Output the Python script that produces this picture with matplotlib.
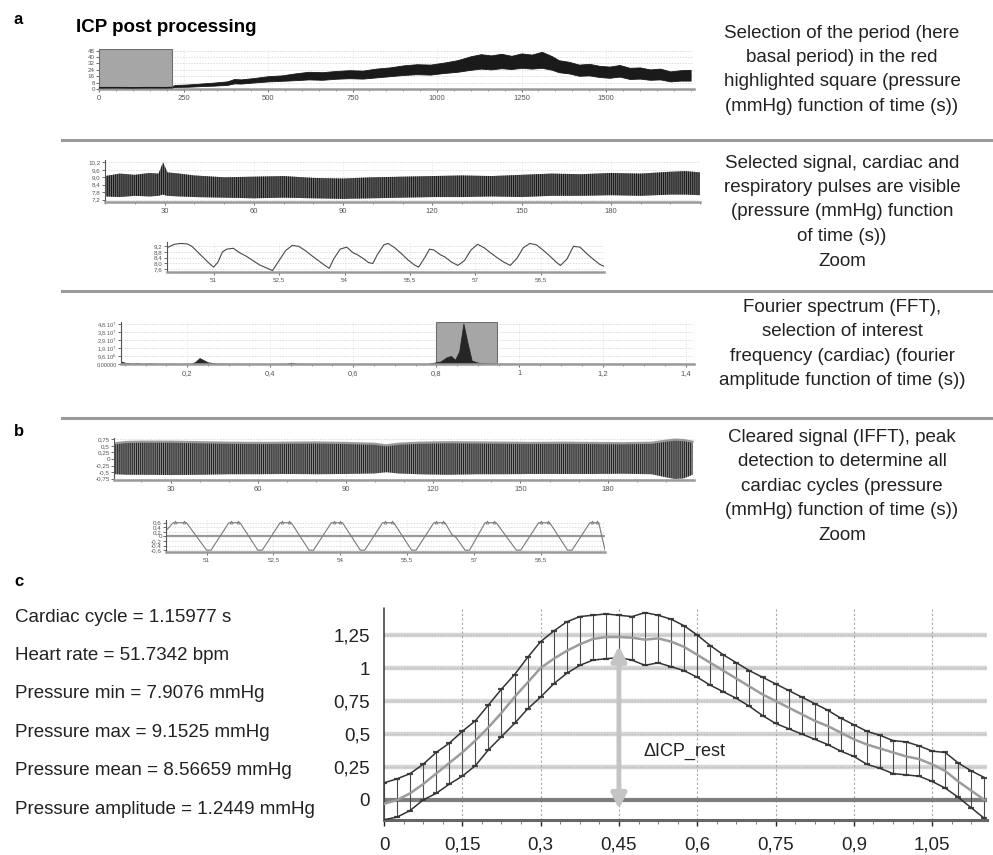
import numpy as np
import matplotlib
matplotlib.use("Agg")
import matplotlib.pyplot as plt
from matplotlib.lines import Line2D
from matplotlib.patches import Rectangle
from matplotlib.ticker import MultipleLocator

plt.rcParams["font.family"] = ["Liberation Sans", "DejaVu Sans"]
plt.rcParams["hatch.linewidth"] = 0.7

W, H = 993, 855

# ---- a1: whole recording, pressure band (mmHg) vs time (s)
a1_t = [0, 50, 100, 150, 200, 215, 225, 260, 300, 340, 380, 400, 420, 460, 500,
        540, 580, 620, 660, 700, 740, 780, 820, 860, 900, 940, 980, 1020, 1060,
        1100, 1130, 1160, 1190, 1220, 1250, 1280, 1310, 1340, 1360, 1390, 1420,
        1450, 1480, 1510, 1540, 1570, 1600, 1630, 1660, 1690, 1720, 1750]
a1_hi = [3.5, 3.5, 3.2, 3.6, 3.4, 3.6, 5.0, 5.6, 6.8, 8.0, 9.6, 12.5, 12.0, 13.8,
         16.0, 17.0, 19.5, 21.5, 21.0, 22.5, 23.5, 23.0, 25.5, 27.0, 29.5, 31.0,
         30.5, 33.0, 36.0, 41.0, 43.5, 42.0, 44.0, 41.5, 44.5, 43.0, 46.5, 41.0,
         36.0, 34.0, 30.5, 31.5, 29.0, 28.0, 30.0, 26.5, 27.0, 24.5, 25.5, 22.0,
         23.5, 24.0]
a1_lo = [1.5, 1.6, 1.4, 1.6, 1.5, 1.8, 2.6, 2.8, 3.6, 4.2, 5.2, 7.0, 6.8, 8.2, 9.5,
         10.2, 11.0, 12.0, 11.5, 12.8, 13.5, 13.0, 14.5, 16.0, 17.5, 18.5, 18.0,
         20.0, 21.5, 24.0, 25.5, 24.5, 26.0, 25.0, 26.5, 25.5, 26.5, 24.0, 21.0,
         19.5, 16.5, 17.0, 15.0, 14.0, 15.5, 12.5, 13.0, 11.5, 12.0, 9.5, 10.5, 10.5]
a1_select = (0, 215)
a1_xticks = [0, 250, 500, 750, 1000, 1250, 1500]
a1_yticks = [0, 8, 16, 24, 32, 40, 48]

# ---- a2: selected basal period
a2_t = [10, 15, 20, 25, 28, 29.5, 31, 35, 40, 50, 60, 70, 80, 90, 100, 110, 120,
        130, 140, 150, 160, 170, 180, 190, 200, 205, 210]
a2_hi = [9.1, 9.3, 9.2, 9.35, 9.3, 10.2, 9.4, 9.3, 9.15, 9.0, 9.05, 9.1, 8.95, 8.9,
         9.0, 9.05, 9.1, 9.15, 9.1, 9.2, 9.3, 9.25, 9.35, 9.3, 9.45, 9.5, 9.4]
a2_lo = [7.45, 7.4, 7.5, 7.45, 7.5, 7.6, 7.5, 7.45, 7.4, 7.35, 7.3, 7.35, 7.3, 7.25,
         7.3, 7.35, 7.4, 7.4, 7.45, 7.4, 7.5, 7.5, 7.55, 7.5, 7.6, 7.6, 7.55]
sig_xticks = [30, 60, 90, 120, 150, 180]
a2_yticks = [7.2, 7.8, 8.4, 9.0, 9.6, 10.2]
a2_ylabels = ["7,2", "7,8", "8,4", "9,0", "9,6", "10,2"]

# ---- a2 zoom
a2z_t = [49.93, 50.1, 50.25, 50.4, 50.5, 50.6, 50.7, 50.8, 50.9, 51.0, 51.1, 51.2,
         51.3, 51.45, 51.6, 51.75, 51.9, 52.05, 52.2, 52.35, 52.5, 52.65, 52.8,
         52.95, 53.1, 53.25, 53.4, 53.55, 53.65, 53.75, 53.9, 54.05, 54.2, 54.3,
         54.45, 54.55, 54.65, 54.75, 54.9, 55.0, 55.15, 55.3, 55.45, 55.6, 55.7,
         55.85, 55.95, 56.05, 56.2, 56.3, 56.45, 56.6, 56.75, 56.9, 57.05, 57.2,
         57.35, 57.5, 57.65, 57.8, 57.95, 58.1, 58.25, 58.4, 58.55, 58.7, 58.85,
         58.95, 59.1, 59.25, 59.4, 59.55, 59.7, 59.85, 59.95]
a2z_p = [9.10, 9.34, 9.40, 9.36, 9.20, 8.90, 8.60, 8.30, 8.00, 7.74, 8.10, 8.80,
         9.00, 9.06, 8.74, 8.50, 8.20, 7.90, 7.70, 7.50, 8.20, 8.90, 9.26, 9.20,
         8.90, 8.54, 8.20, 7.86, 7.66, 8.30, 9.00, 9.14, 8.74, 8.60, 8.30, 8.06,
         8.00, 8.60, 9.30, 9.40, 9.10, 8.70, 8.26, 7.90, 7.74, 8.46, 9.00, 8.94,
         8.60, 8.46, 8.10, 7.86, 8.20, 8.94, 9.34, 9.10, 8.74, 8.40, 8.10, 7.86,
         8.34, 9.10, 9.40, 9.30, 8.94, 8.54, 8.10, 7.86, 8.30, 9.20, 9.14, 8.70,
         8.30, 7.94, 7.80]
zoom_xticks = [51, 52.5, 54, 55.5, 57, 58.5]
zoom_xlabels = ["51", "52,5", "54", "55,5", "57", "58,5"]

# ---- a3: Fourier spectrum (amplitude x 1e7)
fft_f = [0.041, 0.05, 0.07, 0.08, 0.09, 0.11, 0.13, 0.15, 0.18, 0.21, 0.22, 0.23,
         0.24, 0.25, 0.27, 0.30, 0.35, 0.40, 0.44, 0.45, 0.46, 0.50, 0.60, 0.70,
         0.78, 0.81, 0.825, 0.835, 0.845, 0.855, 0.865, 0.875, 0.885, 0.90, 0.92,
         0.95, 1.0, 1.2, 1.42]
fft_a = [0.3, 0.15, 0.05, 0.12, 0.04, 0.08, 0.03, 0.05, 0.03, 0.05, 0.25, 0.7,
         0.45, 0.2, 0.06, 0.04, 0.03, 0.02, 0.04, 0.15, 0.05, 0.02, 0.02, 0.02,
         0.03, 0.3, 0.8, 0.95, 0.5, 1.5, 4.8, 2.5, 0.4, 0.15, 0.08, 0.04, 0.02,
         0.02, 0.02]
fft_select = (0.8, 0.947)
fft_xticks = [0.2, 0.4, 0.6, 0.8, 1.0, 1.2, 1.4]
fft_xlabels = ["0,2", "0,4", "0,6", "0,8", "1", "1,2", "1,4"]
fft_yticks = [0, 0.96, 1.92, 2.88, 3.84, 4.8]
fft_ylabels = ["0,00000", "9,6.10$^6$", "1,9.10$^7$", "2,9.10$^7$", "3,8.10$^7$",
               "4,8.10$^7$"]

# ---- b1: cleared signal (IFFT)
b1_t = [11, 15, 20, 30, 40, 50, 60, 70, 80, 90, 100, 104, 108, 115, 125, 135, 145,
        155, 165, 175, 185, 195, 200, 203, 206, 209]
b1_hi = [0.6, 0.65, 0.66, 0.66, 0.64, 0.62, 0.61, 0.62, 0.63, 0.61, 0.58, 0.52,
         0.58, 0.62, 0.64, 0.63, 0.62, 0.61, 0.62, 0.61, 0.60, 0.62, 0.70, 0.74,
         0.72, 0.66]
b1_lo = [-0.58, -0.6, -0.6, -0.61, -0.6, -0.58, -0.58, -0.57, -0.58, -0.57, -0.55,
         -0.5, -0.55, -0.58, -0.6, -0.58, -0.58, -0.57, -0.57, -0.57, -0.56,
         -0.58, -0.7, -0.76, -0.74, -0.6]
b1_yticks = [-0.75, -0.5, -0.25, 0, 0.25, 0.5, 0.75]
b1_ylabels = ["-0,75", "-0,5", "-0,25", "0", "0,25", "0,5", "0,75"]

# ---- b2 zoom with detected peaks
b2_t = [50.09, 50.25, 50.55, 51.0, 51.1, 51.5, 51.75, 52.15, 52.25, 52.65, 52.9,
        53.3, 53.4, 53.8, 54.05, 54.45, 54.55, 54.95, 55.2, 55.6, 55.7, 56.1,
        56.35, 56.5, 56.6, 56.8, 56.9, 57.25, 57.5, 57.95, 58.05, 58.45, 58.7,
        59.1, 59.2, 59.6, 59.8, 59.94]
b2_p = [0.25, 0.6, 0.6, -0.6, -0.6, 0.6, 0.6, -0.6, -0.6, 0.6, 0.6, -0.6, -0.6,
        0.6, 0.6, -0.6, -0.6, 0.6, 0.6, -0.6, -0.6, 0.6, 0.6, 0.1, -0.05, -0.6,
        -0.6, 0.6, 0.6, -0.6, -0.6, 0.6, 0.6, -0.6, -0.6, 0.6, 0.6, -0.6]
b2_peak_t = [50.3, 50.5, 51.55, 51.7, 52.7, 52.85, 53.85, 54.0, 55.0, 55.15, 56.15,
             56.3, 57.3, 57.45, 58.5, 58.65, 59.65, 59.75]

# ---- c: averaged cardiac cycle (mmHg) vs time (s)
c_t = [0.0, 0.025, 0.05, 0.075, 0.1, 0.125, 0.15, 0.175, 0.2, 0.225, 0.25, 0.275,
       0.3, 0.325, 0.35, 0.375, 0.4, 0.425, 0.45, 0.475, 0.5, 0.525, 0.55, 0.575,
       0.6, 0.625, 0.65, 0.675, 0.7, 0.725, 0.75, 0.775, 0.8, 0.825, 0.85, 0.875,
       0.9, 0.925, 0.95, 0.975, 1.0, 1.025, 1.05, 1.075, 1.1, 1.125, 1.15]
c_mean = [-0.03, 0.00, 0.05, 0.12, 0.20, 0.28, 0.36, 0.45, 0.55, 0.66, 0.78, 0.89,
          1.00, 1.07, 1.13, 1.18, 1.22, 1.235, 1.235, 1.23, 1.215, 1.225, 1.20,
          1.16, 1.10, 1.04, 0.98, 0.92, 0.86, 0.80, 0.75, 0.70, 0.65, 0.60, 0.56,
          0.51, 0.46, 0.42, 0.39, 0.36, 0.33, 0.31, 0.27, 0.22, 0.14, 0.07, 0.00]
c_upper = [0.13, 0.16, 0.20, 0.27, 0.36, 0.43, 0.52, 0.60, 0.72, 0.84, 0.95, 1.08,
           1.20, 1.28, 1.35, 1.39, 1.40, 1.41, 1.40, 1.39, 1.42, 1.40, 1.37, 1.32,
           1.25, 1.17, 1.10, 1.04, 0.98, 0.93, 0.88, 0.83, 0.78, 0.73, 0.68, 0.62,
           0.57, 0.52, 0.49, 0.45, 0.44, 0.41, 0.37, 0.36, 0.28, 0.22, 0.17]
c_lower = [-0.15, -0.13, -0.08, 0.00, 0.05, 0.12, 0.18, 0.26, 0.38, 0.48, 0.58,
           0.69, 0.78, 0.88, 0.96, 1.02, 1.06, 1.07, 1.08, 1.06, 1.02, 1.04, 1.01,
           0.98, 0.93, 0.87, 0.82, 0.77, 0.71, 0.64, 0.58, 0.54, 0.50, 0.46, 0.42,
           0.37, 0.33, 0.27, 0.24, 0.20, 0.19, 0.18, 0.14, 0.09, 0.02, -0.06, -0.14]
c_xticks = [0, 0.15, 0.3, 0.45, 0.6, 0.75, 0.9, 1.05]
c_xlabels = ["0", "0,15", "0,3", "0,45", "0,6", "0,75", "0,9", "1,05"]
c_yticks = [0, 0.25, 0.5, 0.75, 1, 1.25]
c_ylabels = ["0", "0,25", "0,5", "0,75", "1", "1,25"]
c_delta_x = 0.45
c_delta_range = (-0.09, 1.19)

c_results = [
    "Cardiac cycle = 1.15977 s",
    "Heart rate = 51.7342 bpm",
    "Pressure min = 7.9076 mmHg",
    "Pressure max = 9.1525 mmHg",
    "Pressure mean = 8.56659 mmHg",
    "Pressure amplitude = 1.2449 mmHg",
]

captions = [
    ["Selection of the period (here", "basal period) in the red",
     "highlighted square (pressure", "(mmHg) function of time (s))"],
    ["Selected signal, cardiac and", "respiratory pulses are visible",
     "(pressure (mmHg) function", "of time (s))", "Zoom"],
    ["Fourier spectrum (FFT),", "selection of interest",
     "frequency (cardiac) (fourier", "amplitude function of time (s))"],
    ["Cleared signal (IFFT), peak", "detection to determine all",
     "cardiac cycles (pressure", "(mmHg) function of time (s))", "Zoom"],
]


def px_axes(fig, left, top, right, bottom):
    return fig.add_axes([left / W, 1 - bottom / H, (right - left) / W,
                         (bottom - top) / H])


def px_text(fig, x, y, s, **kw):
    fig.text(x / W, 1 - y / H, s, **kw)


def px_hline(fig, x0, x1, y, **kw):
    fig.add_artist(Line2D([x0 / W, x1 / W], [1 - y / H, 1 - y / H], **kw))


def small_style(ax, grid_y=True):
    for s in ["top", "right"]:
        ax.spines[s].set_visible(False)
    ax.spines["left"].set_color("#555555")
    ax.spines["left"].set_linewidth(0.8)
    ax.spines["bottom"].set_color("#9a9a9a")
    ax.spines["bottom"].set_linewidth(1.8)
    ax.tick_params(labelsize=5.5, colors="#555555", length=2, width=0.6, pad=2)
    ax.tick_params(axis="y", labelsize=4.5, pad=1)
    if grid_y:
        ax.grid(axis="y", color="#cfcfcf", lw=0.5, ls=(0, (2, 2)))
    ax.grid(axis="x", color="#e0e0e0", lw=0.5, ls=(0, (2, 2)))
    ax.set_axisbelow(True)


fig = plt.figure(figsize=(W / 100, H / 100), dpi=100)

# ---- labels and captions
px_text(fig, 14, 20, "a", fontsize=12, fontweight="bold", va="center")
px_text(fig, 76, 27, "ICP post processing", fontsize=13.5, fontweight="bold",
        va="center")
px_text(fig, 14, 431, "b", fontsize=12, fontweight="bold", va="center")
px_text(fig, 14, 582, "c", fontsize=12, fontweight="bold", va="center")

caption_tops = [33, 163, 307, 437]
for lines, y0 in zip(captions, caption_tops):
    for i, line in enumerate(lines):
        px_text(fig, 842, y0 + i * 24.5, line, fontsize=13.5, ha="center",
                va="center", color="#222222")

for i, line in enumerate(c_results):
    px_text(fig, 15, 617 + i * 38.4, line, fontsize=13.5, va="center",
            color="#222222")

for y in [140, 291, 418]:
    px_hline(fig, 62, 993, y, color="#9a9a9a", lw=2.2)

# ---- a1
ax = px_axes(fig, 99, 49, 694, 89)
small_style(ax)
ax.fill_between(a1_t, a1_lo, a1_hi, color="#1a1a1a", lw=0.6)
ax.add_patch(Rectangle((a1_select[0], 0), a1_select[1] - a1_select[0], 50,
                       facecolor="#a6a6a6", edgecolor="#6e6e6e", lw=0.8,
                       zorder=3))
ax.plot(a1_t[:6], a1_lo[:6], color="#1a1a1a", lw=1.2, zorder=4)
ax.set_xlim(0, 1760)
ax.set_ylim(0, 50)
ax.set_xticks(a1_xticks)
ax.set_yticks(a1_yticks)
ax.xaxis.set_minor_locator(MultipleLocator(50))
ax.tick_params(which="minor", length=1.5, color="#777777")

# ---- a2
ax = px_axes(fig, 105, 160, 700, 202)
small_style(ax)
ax.fill_between(a2_t, a2_lo, a2_hi, facecolor="#6e6e6e", edgecolor="#161616",
                hatch="||||||||", lw=0)
ax.set_xlim(10, 210)
ax.set_ylim(7.0, 10.4)
ax.set_xticks(sig_xticks)
ax.set_yticks(a2_yticks)
ax.set_yticklabels(a2_ylabels)
ax.xaxis.set_minor_locator(MultipleLocator(10))
ax.tick_params(which="minor", length=1.5, color="#777777")

# ---- a2 zoom
ax = px_axes(fig, 167, 242, 604, 272)
small_style(ax)
ax.plot(a2z_t, a2z_p, color="#4a4a4a", lw=0.8)
ax.set_xlim(49.93, 59.95)
ax.set_ylim(7.4, 9.5)
ax.set_xticks(zoom_xticks)
ax.set_xticklabels(zoom_xlabels)
ax.set_yticks([7.6, 8.0, 8.4, 8.8, 9.2])
ax.set_yticklabels(["7,6", "8,0", "8,4", "8,8", "9,2"])
ax.tick_params(labelsize=4.5)

# ---- a3 FFT
ax = px_axes(fig, 121, 322, 694, 364)
small_style(ax)
ax.add_patch(Rectangle((fft_select[0], 0), fft_select[1] - fft_select[0], 5.0,
                       facecolor="#a6a6a6", edgecolor="#6e6e6e", lw=0.8,
                       zorder=1))
ax.fill_between(fft_f, 0, fft_a, color="#262626", lw=0.6, zorder=2)
ax.set_xlim(0.041, 1.42)
ax.set_ylim(0, 5.0)
ax.set_xticks(fft_xticks)
ax.set_xticklabels(fft_xlabels)
ax.set_yticks(fft_yticks)
ax.set_yticklabels(fft_ylabels)
ax.xaxis.set_minor_locator(MultipleLocator(0.05))
ax.tick_params(which="minor", length=1.5, color="#777777")
ax.tick_params(axis="y", labelsize=4)

# ---- b1
ax = px_axes(fig, 114, 438, 694, 480)
small_style(ax)
ax.fill_between(b1_t, b1_lo, b1_hi, facecolor="#8a8a8a", edgecolor="#1e1e1e",
                hatch="||||||||", lw=0)
ax.plot(b1_t, b1_hi, color="#9a9a9a", lw=1.6)
ax.set_xlim(10.6, 209.5)
ax.set_ylim(-0.8, 0.8)
ax.set_xticks(sig_xticks)
ax.set_yticks(b1_yticks)
ax.set_yticklabels(b1_ylabels)
ax.xaxis.set_minor_locator(MultipleLocator(10))
ax.tick_params(which="minor", length=1.5, color="#777777")

# ---- b2 zoom
ax = px_axes(fig, 166, 520, 605, 552)
small_style(ax)
ax.axhline(0, color="#9a9a9a", lw=1.6)
ax.plot(b2_t, b2_p, color="#7a7a7a", lw=0.8)
ax.plot(b2_peak_t, [0.64] * len(b2_peak_t), ls="none", marker="^", ms=2.2,
        mfc="none", mec="#777777", mew=0.5)
ax.set_xlim(50.09, 59.94)
ax.set_ylim(-0.68, 0.72)
ax.set_xticks(zoom_xticks)
ax.set_xticklabels(zoom_xlabels)
ax.set_yticks([-0.6, -0.4, -0.2, 0, 0.2, 0.4, 0.6])
ax.set_yticklabels(["-0,6", "-0,4", "-0,2", "0", "0,2", "0,4", "0,6"])
ax.tick_params(labelsize=4.5)

# ---- c
ax = px_axes(fig, 384, 608, 987, 820)
for s in ["top", "right"]:
    ax.spines[s].set_visible(False)
ax.spines["left"].set_linestyle((0, (1, 1)))
ax.spines["left"].set_color("#444444")
ax.spines["left"].set_linewidth(1.2)
ax.spines["bottom"].set_color("#666666")
ax.spines["bottom"].set_linewidth(2.2)
for yv in c_yticks[1:]:
    ax.axhline(yv, color="#d6d6d6", lw=3.2, zorder=0)
    ax.axhline(yv, color="#bdbdbd", lw=1.0, ls=(0, (1, 1)), zorder=0)
for xv in c_xticks[1:]:
    ax.axvline(xv, color="#a8a8a8", lw=0.8, ls=(0, (2, 2)), zorder=0)
ax.axhline(0, color="#7d7d7d", lw=3.0, zorder=1)

c_mean_arr = np.array(c_mean)
yerr = [c_mean_arr - np.array(c_lower), np.array(c_upper) - c_mean_arr]
ax.errorbar(c_t, c_mean, yerr=yerr, fmt="none", ecolor="#4a4a4a", elinewidth=0.8,
            capsize=2.5, capthick=1.6, zorder=2)
ax.plot(c_t, c_upper, color="#333333", lw=1.1, zorder=3)
ax.plot(c_t, c_lower, color="#333333", lw=1.1, zorder=3)
ax.plot(c_t, c_mean, color="#9c9c9c", lw=1.8, zorder=3)

ax.annotate("", xy=(c_delta_x, c_delta_range[1]), xytext=(c_delta_x, c_delta_range[0]),
            arrowprops=dict(arrowstyle="<|-|>", color="#c4c4c4", lw=3.5,
                            mutation_scale=22), zorder=4)
ax.text(0.497, 0.37, "\u0394ICP_rest", fontsize=13, va="center", color="#222222",
        zorder=5)

ax.set_xlim(0, 1.155)
ax.set_ylim(-0.152, 1.455)
ax.set_xticks(c_xticks)
ax.set_xticklabels(c_xlabels)
ax.set_yticks(c_yticks)
ax.set_yticklabels(c_ylabels)
ax.xaxis.set_minor_locator(MultipleLocator(0.0375))
ax.tick_params(axis="x", labelsize=13.5, colors="#222222", length=4, width=1,
               pad=8)
ax.tick_params(axis="x", which="minor", length=3, color="#666666")
ax.tick_params(axis="y", labelsize=13.5, colors="#222222", length=0, pad=10)

fig.savefig("out.png", dpi=100)
